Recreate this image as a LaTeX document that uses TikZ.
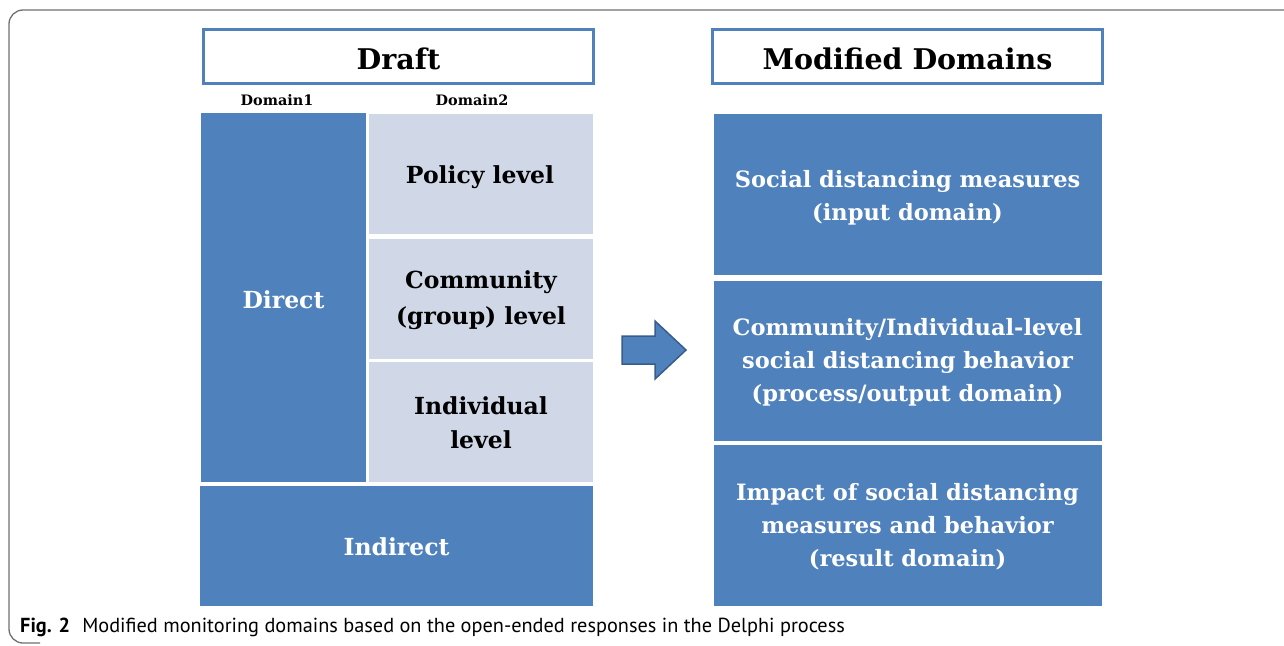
\documentclass[tikz,border=0pt]{standalone}
\usepackage{fontspec}
\setmainfont{DejaVu Serif}
\newfontfamily\capfont{PT Sans}
\definecolor{dblue}{HTML}{4F81BD}
\definecolor{lblue}{HTML}{D0D8E8}
\definecolor{aborder}{HTML}{385D8A}
\definecolor{framegray}{HTML}{707070}
\begin{document}
\begin{tikzpicture}[x=1pt,y=-1pt,
  titlebox/.style={draw=dblue,line width=3pt,fill=white,inner sep=0pt},
  darkcell/.style={fill=dblue,draw=white,line width=2.5pt,inner sep=0pt},
  lightcell/.style={fill=lblue,draw=white,line width=2.5pt,inner sep=0pt},
  rcell/.style={fill=dblue,draw=white,line width=2pt,inner sep=0pt},
  darktext/.style={inner sep=0pt,text=white,font=\bfseries\fontsize{23.5}{34}\selectfont,align=center},
  lighttext/.style={inner sep=0pt,text=black,font=\bfseries\fontsize{23.5}{36}\selectfont,align=center},
  rtext/.style={inner sep=0pt,text=white,font=\bfseries\fontsize{22.5}{33}\selectfont,align=center},
  titletext/.style={font=\bfseries\fontsize{28.5}{34}\selectfont},
  domlabel/.style={font=\bfseries\fontsize{14.4}{17}\selectfont}]
\useasboundingbox (0,0) rectangle (1284,645);
% outer frame
\draw[framegray,line width=1.3pt,rounded corners=14pt] (1300,10) -- (9,10) -- (9,643) -- (40,643);
% Draft title
\node[titlebox,minimum width=390pt,minimum height=54pt] (draft) at (398.5,56.5) {};
\node[titletext] (drafttxt) at ([yshift=-2pt]draft.center) {Draft};
\node[domlabel] (d1) at (277,100) {Domain1};
\node[domlabel] (d2) at (472,100) {Domain2};
% left grid
\node[lightcell,minimum width=228pt,minimum height=123pt] (policy) at (480,174) {};
\node[darkcell,minimum width=168pt,minimum height=371pt] (direct) at (283.5,297.5) {};
\node[lightcell,minimum width=226pt,minimum height=123pt] (comm) at (481,299) {};
\node[lightcell,minimum width=226pt,minimum height=123pt] (indiv) at (481,422) {};
\node[darkcell,minimum width=395pt,minimum height=123pt] (indirect) at (396.5,546) {};
\node[lighttext] (policyt) at ([yshift=-3pt]policy.center) {Policy level};
\node[darktext] (directt) at ([yshift=-2pt]direct.center) {Direct};
\node[lighttext] (commt) at ([yshift=-1.5pt]comm.center) {Community\\(group) level};
\node[lighttext,font=\bfseries\fontsize{23.5}{34}\selectfont] (indivt) at ([yshift=-1pt]indiv.center) {Individual\\level};
\node[darktext] (indirectt) at ([yshift=-1pt]indirect.center) {Indirect};
% arrow
\node[inner sep=0pt,minimum size=0pt] (arrowc) at (654,350) {};
\draw[draw=aborder,fill=dblue,line width=1.5pt,line join=miter]
  (622,336) -- (655,336) -- (655,321) -- (686,350) -- (655,379) -- (655,364) -- (622,364) -- cycle;
% right side
\node[titlebox,minimum width=390pt,minimum height=54pt] (mod) at (907.5,56.5) {};
\node[titletext] (modtxt) at ([yshift=-2pt]mod.center) {Modified Domains};
\node[rcell,minimum width=390pt,minimum height=163pt] (r1) at (907.5,194.5) {};
\node[rcell,minimum width=390pt,minimum height=162pt] (r2) at (907.5,360.5) {};
\node[rcell,minimum width=390pt,minimum height=163pt] (r3) at (907.5,525) {};
\node[rtext] (r1t) at ([yshift=-3pt]r1.center) {Social distancing measures\\(input domain)};
\node[rtext] (r2t) at ([yshift=-1.5pt]r2.center) {Community/Individual-level\\social distancing behavior\\(process/output domain)};
\node[rtext] (r3t) at ([yshift=-1.5pt]r3.center) {Impact of social distancing\\measures and behavior\\(result domain)};
% caption
\node[anchor=west,inner sep=0pt,font=\capfont\fontsize{20.3}{24}\selectfont] (cap) at (20,627) {\textbf{Fig. 2}\hspace{0.6em}Modified monitoring domains based on the open-ended responses in the Delphi process};
\end{tikzpicture}
\end{document}
